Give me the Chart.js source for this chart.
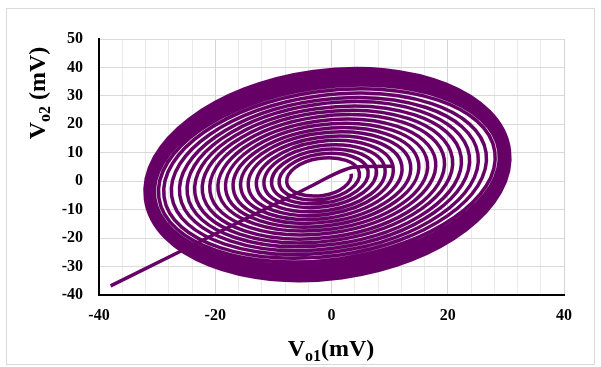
<!DOCTYPE html>
<html>
<head>
<meta charset="utf-8">
<script src="https://cdn.jsdelivr.net/npm/chart.js@4.4.1/dist/chart.umd.min.js"></script>
<style>
  html, body { margin: 0; padding: 0; background: #fff; }
  #c { display: block; }
</style>
</head>
<body>
<canvas id="c" width="601" height="367"></canvas>
<script>
// ===== data =====
// start-up transient: straight run from the lower left into the centre
const entryX = [-38.0, -3.2, 0.5, 3.5, 6.0, 10.8];
const entryY = [-36.8, -1.4, 2.5, 4.8, 5.2, 5.3];

// spiral: right / bottom / left / top point of every turn, inside out
// (first and last point only steer the curve, their segment is not drawn)
const spiralX = [
  -2.2,
   3.4, -1.4,  -7.7, -2.2,
   4.8, -1.2,  -9.0, -2.2,
   6.3, -1.1, -10.3, -2.3,
   7.7, -0.9, -11.6, -2.3,
   9.2, -0.7, -12.9, -2.3,
  10.6, -0.6, -14.3, -2.4,
  12.1, -0.4, -15.6, -2.4,
  13.6, -0.3, -16.9, -2.4,
  15.0, -0.1, -18.2, -2.4,
  16.5,  0.1, -19.5, -2.5,
  17.9,  0.2, -20.9, -2.5,
  19.4,  0.4, -22.2, -2.5,
  20.8,  0.5, -23.5, -2.6,
  22.3,  0.7, -24.8, -2.6,
  23.7,  0.9, -26.1, -2.6,
  25.2,  1.0, -27.5, -2.6,
  26.6,  1.2, -28.8, -2.7,
  28.1,  1.3, -29.7, -2.7,
  28.8,  1.4, -30.4, -2.8,
  29.3,  1.5, -30.8, -2.9,
  29.7,  1.5, -31.2, -3.0,
  30.0,  1.6, -31.5, -3.0,
  30.3,  1.7, -31.7, -3.1,
  30.4,  1.7, -31.9, -3.1,
  30.5,  1.7, -32.0, -3.1,
  30.6,  1.8, -32.0, -3.1,
  30.6,  1.8
];
const spiralY = [
   6.6,
   2.6,  -5.0, -0.5,  8.0,
   3.0,  -6.3, -0.8,  9.5,
   3.5,  -7.6, -1.1, 10.9,
   4.0,  -8.9, -1.4, 12.4,
   4.4, -10.3, -1.8, 13.9,
   4.9, -11.6, -2.1, 15.3,
   5.4, -12.9, -2.4, 16.8,
   5.8, -14.2, -2.7, 18.2,
   6.3, -15.5, -3.0, 19.7,
   6.7, -16.8, -3.3, 21.1,
   7.2, -18.1, -3.7, 22.6,
   7.7, -19.5, -4.0, 24.1,
   8.1, -20.8, -4.3, 25.5,
   8.6, -22.1, -4.6, 27.0,
   9.1, -23.4, -4.9, 28.4,
   9.5, -24.7, -5.2, 29.9,
  10.0, -26.0, -5.6, 31.4,
  10.4, -27.3, -5.8, 32.7,
  10.6, -28.5, -6.0, 33.8,
  10.8, -29.6, -6.1, 34.9,
  10.9, -30.6, -6.2, 35.9,
  11.0, -31.6, -6.3, 36.8,
  11.1, -32.4, -6.4, 37.6,
  11.1, -33.1, -6.4, 38.2,
  11.1, -33.6, -6.4, 38.6,
  11.1, -33.9, -6.4, 38.6,
  11.1, -33.9
];

const xMin = -40, xMax = 40, xStep = 4, xLabelEvery = 20;
const yMin = -40, yMax = 50, yStep = 10;

const PURPLE = '#660066';
const SERIF = '"Liberation Serif", "Times New Roman", serif';

function toPoints(xs, ys) {
    return xs.map((x, i) => ({ x: x, y: ys[i] }));
}

// axis titles with subscripts, drawn as text on the canvas
function drawParts(ctx, parts) {
    let w = 0;
    parts.forEach(p => {
        ctx.font = 'bold ' + p.size + 'px ' + SERIF;
        p.w = ctx.measureText(p.t).width;
        w += p.w;
    });
    let x = -w / 2;
    parts.forEach(p => {
        ctx.font = 'bold ' + p.size + 'px ' + SERIF;
        ctx.fillText(p.t, x, p.dy);
        x += p.w;
    });
}

const decoPlugin = {
    id: 'deco',
    beforeDraw(chart) {
        const ctx = chart.ctx;
        ctx.save();
        ctx.fillStyle = '#fff';
        ctx.fillRect(0, 0, chart.width, chart.height);
        ctx.strokeStyle = '#d9d9d9';
        ctx.lineWidth = 1;
        ctx.strokeRect(6.5, 8.5, 588, 356);
        ctx.restore();
    },
    afterDraw(chart) {
        const ctx = chart.ctx;
        ctx.save();
        ctx.fillStyle = '#000';
        ctx.textBaseline = 'alphabetic';
        ctx.textAlign = 'left';

        ctx.save();
        ctx.translate(331, 356);
        drawParts(ctx, [
            { t: 'V', size: 24, dy: 0 },
            { t: 'o1', size: 16, dy: 5 },
            { t: '(mV)', size: 24, dy: 0 }
        ]);
        ctx.restore();

        ctx.save();
        ctx.translate(45, 93);
        ctx.rotate(-Math.PI / 2);
        drawParts(ctx, [
            { t: 'V', size: 24, dy: 0 },
            { t: 'o2', size: 16, dy: 5 },
            { t: ' (mV)', size: 24, dy: 0 }
        ]);
        ctx.restore();

        ctx.restore();
    }
};

const lastSpiral = spiralX.length - 1;

const chart = new Chart(document.getElementById('c'), {
    type: 'scatter',
    data: {
        datasets: [
            {
                label: 'spiral',
                data: toPoints(spiralX, spiralY),
                showLine: true,
                borderColor: PURPLE,
                borderWidth: 3.5,
                pointRadius: 0,
                tension: 0.55,
                fill: false,
                segment: {
                    borderColor: c => (c.p0DataIndex === 0 || c.p1DataIndex === lastSpiral) ? 'rgba(0,0,0,0)' : undefined
                }
            },
            {
                label: 'entry',
                data: toPoints(entryX, entryY),
                showLine: true,
                borderColor: PURPLE,
                borderWidth: 3.5,
                pointRadius: 0,
                cubicInterpolationMode: 'monotone',
                fill: false
            }
        ]
    },
    options: {
        responsive: false,
        animation: false,
        layout: { padding: { top: 39, right: 37, bottom: 0, left: 0 } },
        plugins: {
            legend: { display: false },
            tooltip: { enabled: false }
        },
        elements: { line: { capBezierPoints: false, borderCapStyle: 'butt', borderJoinStyle: 'round' } },
        scales: {
            x: {
                type: 'linear',
                min: xMin, max: xMax,
                afterFit: s => { s.height = 72; },
                ticks: {
                    stepSize: xStep,
                    autoSkip: false,
                    maxRotation: 0,
                    padding: 11,
                    color: '#000',
                    font: { family: SERIF, size: 16, weight: 'bold' },
                    callback: v => (v % xLabelEvery === 0 ? String(v) : '')
                },
                grid: {
                    drawTicks: false,
                    color: c => (c.tick && c.tick.value % xLabelEvery === 0 ? '#d4d4d4' : '#ebebeb'),
                    lineWidth: 1
                },
                border: { color: '#000', width: 2 }
            },
            y: {
                type: 'linear',
                min: yMin, max: yMax,
                afterFit: s => { s.width = 99; },
                ticks: {
                    stepSize: yStep,
                    padding: 16,
                    color: '#000',
                    font: { family: SERIF, size: 16, weight: 'bold' }
                },
                grid: {
                    drawTicks: false,
                    color: '#d9d9d9',
                    lineWidth: 1
                },
                border: { color: '#000', width: 2 }
            }
        }
    },
    plugins: [decoPlugin]
});
</script>
</body>
</html>
